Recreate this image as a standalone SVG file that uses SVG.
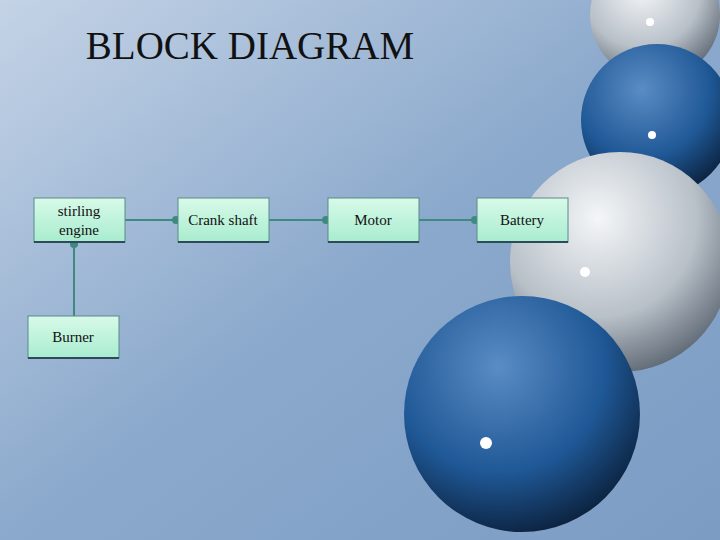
<svg xmlns="http://www.w3.org/2000/svg" width="720" height="540" viewBox="0 0 720 540">
<defs>
<linearGradient id="bg" x1="0" y1="0" x2="1" y2="1"><stop offset="0" stop-color="#c4d3e6"/><stop offset="0.5" stop-color="#8ba9cc"/><stop offset="1" stop-color="#7c9cc4"/></linearGradient>
<linearGradient id="box" x1="0" y1="0" x2="0" y2="1"><stop offset="0" stop-color="#d8fae8"/><stop offset="1" stop-color="#a8ecd0"/></linearGradient>
<radialGradient id="blue" cx="0.4" cy="0.3" r="0.75"><stop offset="0" stop-color="#5a8cc4"/><stop offset="0.6" stop-color="#1f5896"/><stop offset="1" stop-color="#0a1e38"/></radialGradient>
<radialGradient id="grey" cx="0.4" cy="0.3" r="0.75"><stop offset="0" stop-color="#f4f6f8"/><stop offset="0.6" stop-color="#b8c0c8"/><stop offset="1" stop-color="#5a6470"/></radialGradient>
<marker id="dot" markerWidth="6" markerHeight="6" refX="3" refY="3"><circle cx="3" cy="3" r="2" fill="#3f8a80"/></marker>
<style>.b{fill:url(#box);stroke:#5a8a88;stroke-width:1}.s{stroke:#2e4a5a;stroke-width:2}.t{font-family:"Liberation Serif",serif;font-size:15px;fill:#111;text-anchor:middle}.c{stroke:#3f8a80;stroke-width:2;fill:none;marker-end:url(#dot)}</style>
</defs>
<rect width="720" height="540" fill="url(#bg)"/>
<g id="spheres">
<circle cx="655" cy="15" r="65" fill="url(#grey)"/>
<circle cx="657" cy="120" r="76" fill="url(#blue)"/>
<circle cx="620" cy="262" r="110" fill="url(#grey)"/>
<circle cx="522" cy="414" r="118" fill="url(#blue)"/>
<circle cx="652" cy="135" r="4" fill="#fff"/><circle cx="585" cy="272" r="5" fill="#fff"/><circle cx="486" cy="443" r="6" fill="#fff"/><circle cx="650" cy="22" r="4" fill="#fff"/>
</g>
<text x="250" y="59" font-family="Liberation Serif,serif" font-size="39" fill="#111" text-anchor="middle">BLOCK DIAGRAM</text>
<g id="connectors">
<line class="c" x1="125" y1="220" x2="176" y2="220"/>
<line class="c" x1="269" y1="220" x2="326" y2="220"/>
<line class="c" x1="419" y1="220" x2="475" y2="220"/>
<line class="c" x1="74" y1="316" x2="74" y2="244"/>
</g>
<g id="n1"><rect class="b" x="34" y="198" width="91" height="44"/><line class="s" x1="34" y1="242" x2="125" y2="242"/><text class="t" x="79" y="216">stirling</text><text class="t" x="79" y="235">engine</text></g>
<g id="n2"><rect class="b" x="178" y="198" width="91" height="44"/><line class="s" x1="178" y1="242" x2="269" y2="242"/><text class="t" x="223" y="225">Crank shaft</text></g>
<g id="n3"><rect class="b" x="328" y="198" width="91" height="44"/><line class="s" x1="328" y1="242" x2="419" y2="242"/><text class="t" x="373" y="225">Motor</text></g>
<g id="n4"><rect class="b" x="477" y="198" width="91" height="44"/><line class="s" x1="477" y1="242" x2="568" y2="242"/><text class="t" x="522" y="225">Battery</text></g>
<g id="n5"><rect class="b" x="28" y="316" width="91" height="42"/><line class="s" x1="28" y1="358" x2="119" y2="358"/><text class="t" x="73" y="342">Burner</text></g>
</svg>
